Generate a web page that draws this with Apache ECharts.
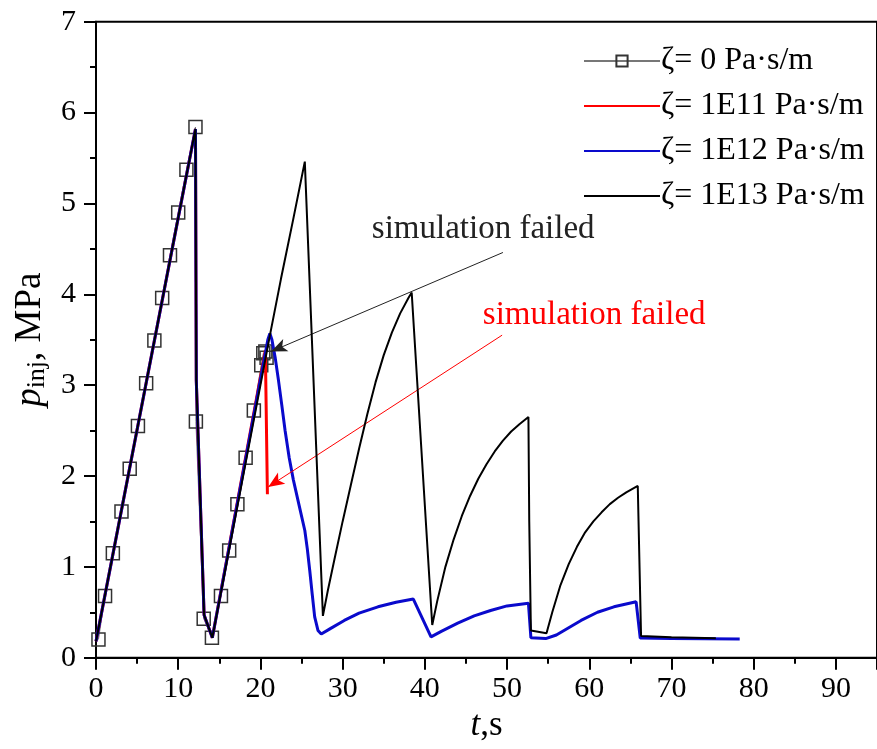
<!DOCTYPE html>
<html>
<head>
<meta charset="utf-8">
<script src="https://cdn.jsdelivr.net/npm/echarts@6/dist/echarts.min.js"></script>
<style>html,body{margin:0;padding:0;background:#fff}#c{width:877px;height:749px}</style>
</head>
<body>
<div id="c"></div>
<script>
var seriesNames = ['ζ= 0 Pa·s/m', 'ζ= 1E11 Pa·s/m', 'ζ= 1E12 Pa·s/m', 'ζ= 1E13 Pa·s/m'];
var xTicks = [0, 10, 20, 30, 40, 50, 60, 70, 80, 90];
var yTicks = [0, 1, 2, 3, 4, 5, 6, 7];

var zeta0 = [[0.3,0.2],[1.1,0.68],[2.05,1.15],[3.1,1.61],[4.1,2.08],[5.1,2.55],[6.1,3.02],[7.1,3.49],[8.05,3.96],[9.0,4.43],[10.0,4.9],[11.0,5.37],[12.1,5.84],
  [12.15,2.6],[13.1,0.43],[14.1,0.22],[15.2,0.68],[16.2,1.18],[17.2,1.69],[18.2,2.2],[19.2,2.72],[20.1,3.22],[20.35,3.35],[20.6,3.37],[20.75,3.3]];

var zeta11 = [[0,0.18],[12.1,5.82],[12.2,3.05],[13.15,0.47],[14.15,0.22],[20.6,3.38],[20.85,1.8]];

var zeta12 = [[0,0.18],[12.1,5.82],[12.2,3.05],[13.15,0.47],[14.15,0.22],[20.9,3.5],[21.15,3.57],[21.4,3.5],[21.8,3.3],[22.2,3.05],[22.6,2.78],[23.0,2.5],[23.5,2.2],[24.0,1.96],[24.7,1.68],[25.4,1.4],[25.7,1.2],[26.0,0.96],[26.3,0.7],[26.6,0.45],[27.0,0.3],[27.4,0.26],
  [28.5,0.32],[30.2,0.41],[32,0.49],[34.3,0.56],[36.5,0.61],[38.6,0.645],[40.75,0.23],
  [42,0.29],[44,0.38],[46,0.46],[48,0.52],[50,0.57],[52.6,0.6],[52.9,0.22],[54.7,0.21],
  [56,0.25],[57.5,0.33],[59,0.41],[61,0.5],[63,0.56],[65.7,0.615],[66.2,0.216],[70,0.21],[78.3,0.205]];

var zeta13 = [[0,0.18],[12.1,5.82],[12.2,3.05],[13.15,0.47],[14.15,0.22],[21.2,3.57],[22.5,4.17],[24,4.83],[25.4,5.46],[27.6,0.46],
  [28.2,0.74],[29,1.08],[30,1.5],[31,1.9],[32,2.3],[33,2.68],[34,3.03],[35,3.33],[36,3.58],[37,3.79],[38,3.96],[38.4,4.02],[40.9,0.36],
  [41.5,0.62],[42.5,1.0],[43.5,1.3],[44.5,1.56],[45.5,1.78],[46.5,1.97],[47.5,2.13],[48.5,2.27],[49.5,2.39],[50.5,2.49],[51.5,2.57],[52.6,2.65],[52.7,1.5],[52.9,0.3],[54.8,0.27],
  [55.5,0.5],[56.5,0.8],[57.5,1.03],[58.5,1.22],[59.5,1.38],[60.5,1.5],[61.5,1.6],[62.5,1.69],[63.5,1.76],[64.5,1.82],[65.9,1.89],[66.3,0.24],[70,0.225],[75.4,0.213]];

var noteBlack = {text:'simulation failed', at:[47.1,4.71], from:[49.5,4.46], to:[21.3,3.37]};
var noteRed = {text:'simulation failed', at:[60.6,3.77], from:[49.4,3.55], to:[20.95,1.88]};

var FONT = 'Liberation Serif';
var chart = echarts.init(document.getElementById('c'), null, {renderer:'canvas'});

function note(n, color){
  return {
    markLine: {
      silent: true, animation: false,
      symbol: ['none','arrow'], symbolSize: [10, 16],
      lineStyle: {color: color, width: 1, type: 'solid'},
      label: {show: false},
      data: [[{coord: n.from}, {coord: n.to}]]
    },
    markPoint: {
      silent: true, animation: false,
      symbol: 'circle', symbolSize: 1,
      itemStyle: {color: 'rgba(0,0,0,0)'},
      label: {show: true, position: 'inside', formatter: n.text, color: color, fontFamily: FONT, fontSize: 33},
      data: [{coord: n.at}]
    }
  };
}

var s11 = {name: seriesNames[1], type:'line', data: zeta11, symbol:'none', z:3,
  lineStyle:{color:'#ff0000', width:3}, itemStyle:{color:'#ff0000'}};
Object.assign(s11, note(noteRed, '#ff0000'));
var s13 = {name: seriesNames[3], type:'line', data: zeta13, symbol:'none', z:5,
  lineStyle:{color:'#000', width:2}, itemStyle:{color:'#000'}};
Object.assign(s13, note(noteBlack, '#222'));

var hideSym = {color: 'rgba(0,0,0,0)', borderWidth: 0, opacity: 0};

chart.setOption({
  animation: false,
  backgroundColor: '#fff',
  grid: {left: 96, top: 21.7, right: -7.8, bottom: 91.3, show: true, borderColor: '#000', borderWidth: 2, backgroundColor: 'transparent'},
  legend: {
    orient: 'vertical', left: 578, top: 40,
    itemWidth: 76, itemHeight: 14, itemGap: 13,
    textStyle: {fontFamily: FONT, fontSize: 32, lineHeight: 30, color: '#000', padding: [0,0,0,-4]},
    data: [
      {name: seriesNames[0]},
      {name: seriesNames[1], itemStyle: hideSym},
      {name: seriesNames[2], itemStyle: hideSym},
      {name: seriesNames[3], itemStyle: hideSym}
    ]
  },
  xAxis: {
    type: 'value', min: 0, max: 95, interval: 10,
    name: '{i|t},s', nameLocation: 'middle', nameGap: 34,
    nameTextStyle: {fontFamily: FONT, fontSize: 35, color: '#000',
      rich: {i: {fontFamily: FONT, fontStyle: 'italic', fontSize: 35, color: '#000'}}},
    axisLine: {show: true, lineStyle: {color: '#000', width: 2}},
    axisTick: {show: true, inside: false, length: 12, lineStyle: {color: '#000', width: 2}},
    minorTick: {show: true, splitNumber: 2, length: 6, lineStyle: {color: '#000', width: 2}},
    splitLine: {show: false},
    axisLabel: {showMaxLabel: false, margin: 16, fontFamily: FONT, fontSize: 30, color: '#000',
      formatter: function(v){ return xTicks.indexOf(v) >= 0 ? String(v) : ''; }}
  },
  yAxis: {
    type: 'value', min: 0, max: 7, interval: 1,
    name: '{i|p}{s|inj}{n|, MPa}', nameLocation: 'middle', nameGap: 46, nameRotate: 90,
    nameTextStyle: {fontFamily: FONT, fontSize: 37, color: '#000',
      rich: {
        i: {fontFamily: FONT, fontStyle: 'italic', fontSize: 37, color: '#000'},
        s: {fontFamily: FONT, fontSize: 26, color: '#000', verticalAlign: 'bottom', padding: [14,0,0,0]},
        n: {fontFamily: FONT, fontSize: 37, color: '#000'}
      }},
    axisLine: {show: true, lineStyle: {color: '#000', width: 2}},
    axisTick: {show: true, inside: false, length: 12, lineStyle: {color: '#000', width: 2}},
    minorTick: {show: true, splitNumber: 2, length: 6, lineStyle: {color: '#000', width: 2}},
    splitLine: {show: false},
    axisLabel: {margin: 20, fontFamily: FONT, fontSize: 30, color: '#000',
      formatter: function(v){ return yTicks.indexOf(v) >= 0 ? String(v) : ''; }}
  },
  series: [
    {name: seriesNames[0], type:'line', data: zeta0, symbol:'rect', symbolSize: 13, z:2,
      lineStyle:{color:'#777', width:1},
      itemStyle:{color:'rgba(255,255,255,0)', borderColor:'#333', borderWidth:1.5}},
    s11,
    {name: seriesNames[2], type:'line', data: zeta12, symbol:'none', z:4,
      lineStyle:{color:'#0a0acc', width:3}, itemStyle:{color:'#0a0acc'}},
    s13
  ]
});
</script>
</body>
</html>
